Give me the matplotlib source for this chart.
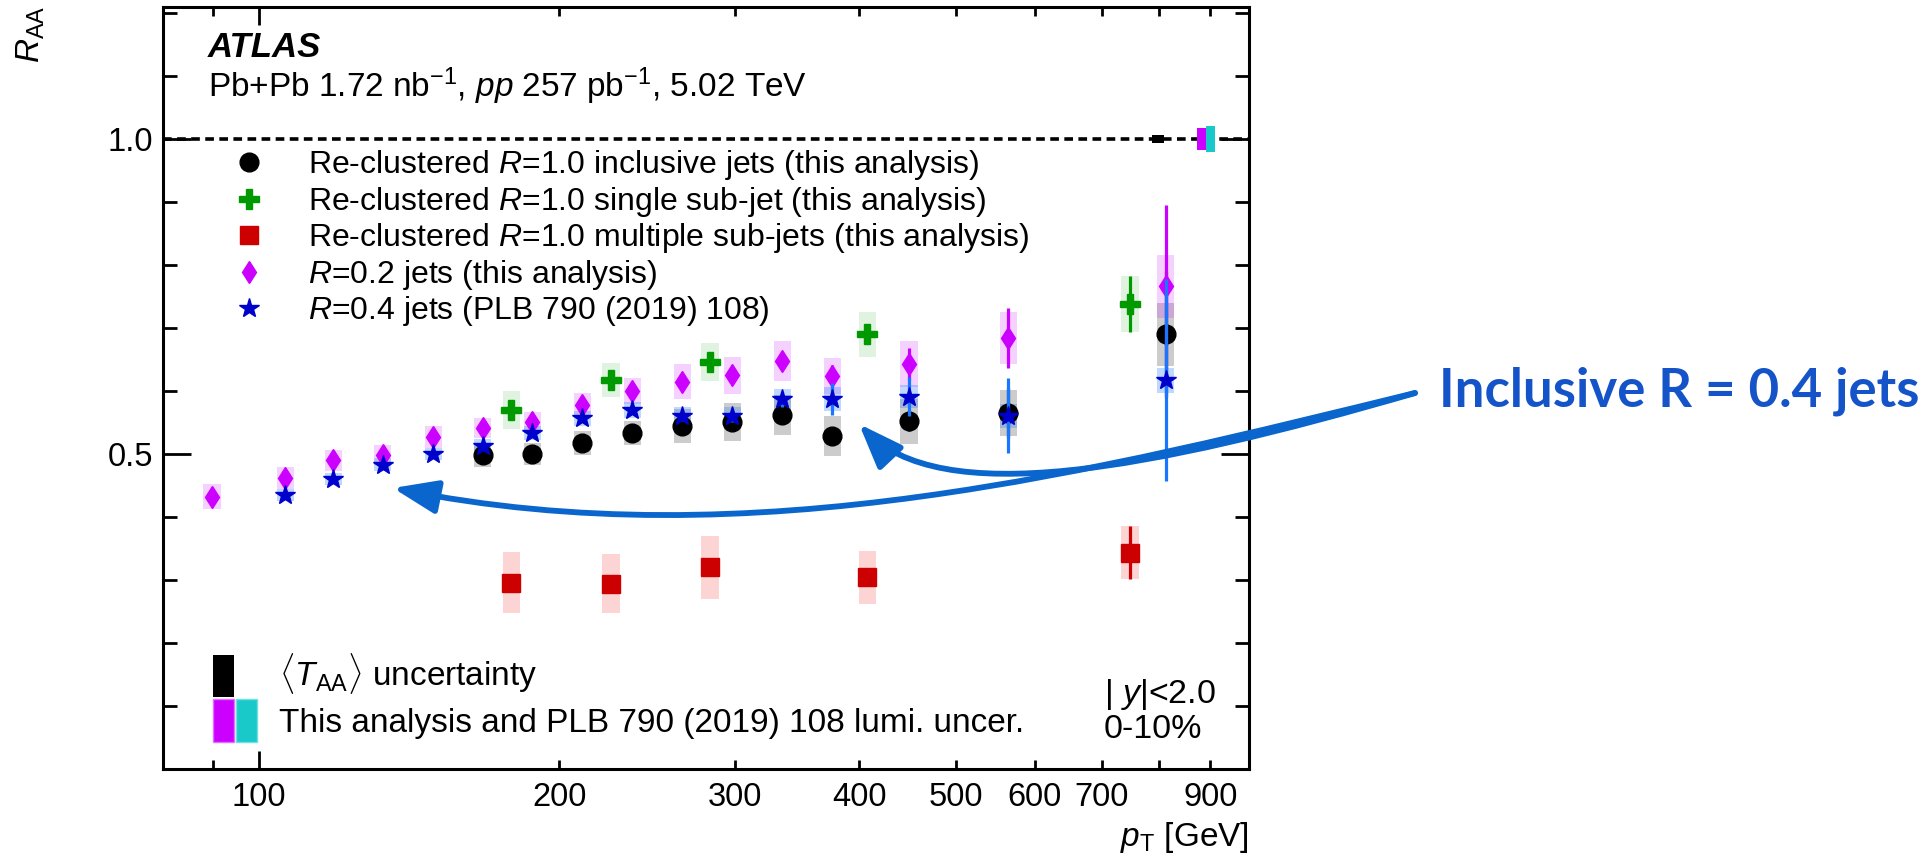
import numpy as np
import matplotlib
matplotlib.use('Agg')
import matplotlib.pyplot as plt
from matplotlib.patches import Rectangle, FancyArrowPatch
from matplotlib.path import Path
from matplotlib.ticker import FixedLocator, FixedFormatter, FormatStrFormatter

plt.rcParams['font.family'] = ['Liberation Sans', 'DejaVu Sans']
plt.rcParams['mathtext.fontset'] = 'custom'
plt.rcParams['mathtext.rm'] = 'Liberation Sans'
plt.rcParams['mathtext.it'] = 'Liberation Sans:italic'
plt.rcParams['mathtext.bf'] = 'Liberation Sans:bold'

# R=0.2 jets (this analysis)
pt_r02 = [89.7, 106.2, 118.7, 133.0, 149.6, 167.6, 188.0, 211.0, 236.8, 265.8, 298.4, 334.9, 375.8, 448.7, 564.4, 811.8]
raa_r02 = [0.432, 0.462, 0.490, 0.498, 0.527, 0.541, 0.550, 0.578, 0.600, 0.615, 0.625, 0.648, 0.624, 0.643, 0.684, 0.766]
stat_r02 = [0.003, 0.003, 0.003, 0.003, 0.003, 0.004, 0.004, 0.005, 0.006, 0.007, 0.008, 0.010, 0.018, 0.025, 0.048, 0.130]
sys_r02 = [0.020, 0.018, 0.017, 0.016, 0.017, 0.016, 0.017, 0.019, 0.021, 0.028, 0.029, 0.032, 0.029, 0.036, 0.041, 0.050]

# R=0.4 jets (PLB 790 (2019) 108)
pt_r04 = [106.2, 118.7, 133.0, 149.6, 167.6, 188.0, 211.0, 236.8, 265.8, 298.4, 334.9, 375.8, 448.7, 564.4, 811.8]
raa_r04 = [0.435, 0.460, 0.483, 0.500, 0.513, 0.533, 0.557, 0.570, 0.561, 0.561, 0.587, 0.587, 0.591, 0.561, 0.617]
stat_r04 = [0.003, 0.003, 0.003, 0.004, 0.004, 0.005, 0.006, 0.007, 0.008, 0.010, 0.012, 0.025, 0.031, 0.060, 0.160]
sys_r04 = [0.009, 0.010, 0.010, 0.010, 0.011, 0.011, 0.012, 0.013, 0.013, 0.014, 0.016, 0.019, 0.018, 0.019, 0.020]

# re-clustered R=1.0 inclusive
pt_incl = [167.6, 188.0, 211.0, 236.8, 265.8, 298.4, 334.9, 375.8, 448.7, 564.4, 811.8]
raa_incl = [0.498, 0.500, 0.518, 0.534, 0.544, 0.551, 0.562, 0.529, 0.552, 0.565, 0.690]
stat_incl = [0.004, 0.004, 0.005, 0.005, 0.006, 0.007, 0.008, 0.010, 0.015, 0.040, 0.100]
sys_incl = [0.018, 0.018, 0.019, 0.019, 0.027, 0.030, 0.032, 0.032, 0.036, 0.037, 0.050]

# single / multiple sub-jets
pt_sub = [179.0, 225.4, 283.4, 407.6, 747.4]
raa_single = [0.570, 0.617, 0.646, 0.690, 0.738]
stat_single = [0.005, 0.006, 0.008, 0.015, 0.044]
sys_single = [0.030, 0.027, 0.030, 0.036, 0.045]
raa_multi = [0.296, 0.294, 0.320, 0.304, 0.343]
stat_multi = [0.005, 0.006, 0.008, 0.012, 0.042]
sys_multi = [0.048, 0.047, 0.050, 0.042, 0.042]

# normalisation uncertainties drawn at R_AA = 1
taa_unc = 0.007
lumi_unc_r02 = 0.017
lumi_unc_r04 = 0.020

W, H = 1933, 857
fig = plt.figure(figsize=(W / 100, H / 100), dpi=100)
ax = fig.add_axes([163 / W, 1 - 769 / H, 1086 / W, 762 / H])
ax.set_xscale('log')
ax.set_xlim(80.1, 984)
ax.set_ylim(0, 1.2095)

bw = 1.02  # half width of the syst. boxes (log)


def boxes(pt, val, err, color, alpha):
    for p, v, e in zip(pt, val, err):
        ax.add_patch(Rectangle((p / bw, v - e), p * bw - p / bw, 2 * e,
                               facecolor=color, alpha=alpha, lw=0, zorder=1))


boxes(pt_incl, raa_incl, sys_incl, 'black', 0.2)
boxes(pt_sub, raa_single, sys_single, '#00a000', 0.12)
boxes(pt_sub, raa_multi, sys_multi, '#ee0000', 0.17)
boxes(pt_r02, raa_r02, sys_r02, '#cc00ff', 0.18)
boxes(pt_r04, raa_r04, sys_r04, '#2a7fff', 0.3)

ax.axhline(1.0, color='black', lw=2.6, ls=(0, (2.4, 1.5)), zorder=2)

# normalisation boxes at the right
ax.add_patch(Rectangle((797 / 1.014, 1 - taa_unc), 797 * 1.014 - 797 / 1.014, 2 * taa_unc,
                       facecolor='black', lw=0, zorder=3))
ax.add_patch(Rectangle((872, 1 - lumi_unc_r02), 890 - 872, 2 * lumi_unc_r02,
                       facecolor='#cc00ff', lw=0, zorder=3))
ax.add_patch(Rectangle((890, 1 - lumi_unc_r04), 909 - 890, 2 * lumi_unc_r04,
                       facecolor='#19c8c8', lw=0, zorder=3))


def series(pt, val, stat, ecolor, z, **kw):
    ax.errorbar(pt, val, yerr=stat, fmt='none', ecolor=ecolor, elinewidth=2.3,
                capsize=0, zorder=z)
    ax.plot(pt, val, ls='none', zorder=z + 0.5, **kw)


series(pt_incl, raa_incl, stat_incl, 'black', 4, marker='o', ms=13.5, color='black')
series(pt_sub, raa_single, stat_single, '#009900', 4, marker='P', ms=14.5, color='#009900')
series(pt_sub, raa_multi, stat_multi, '#cc0000', 4, marker='s', ms=12.5, color='#cc0000')
series(pt_r02, raa_r02, stat_r02, '#cc00ff', 5, marker='d', ms=11.7, color='#cc00ff')
series(pt_r04, raa_r04, stat_r04, '#1a75ff', 6, marker='*', ms=15, color='#0000cc')

# axes style
for s in ax.spines.values():
    s.set_linewidth(2.2)
ax.yaxis.set_major_locator(FixedLocator([0.5, 1.0]))
ax.yaxis.set_minor_locator(FixedLocator([0.1, 0.2, 0.3, 0.4, 0.6, 0.7, 0.8, 0.9, 1.1, 1.2]))
ax.yaxis.set_major_formatter(FormatStrFormatter('%.1f'))
ax.xaxis.set_major_locator(FixedLocator([100]))
ax.xaxis.set_major_formatter(FixedFormatter(['100']))
ax.xaxis.set_minor_locator(FixedLocator([90, 200, 300, 400, 500, 600, 700, 800, 900]))
ax.xaxis.set_minor_formatter(FixedFormatter(['', '200', '300', '400', '500', '600', '700', '', '900']))
ax.tick_params(axis='both', which='both', direction='in', top=True, right=True,
               width=2, labelsize=23.5)
ax.tick_params(axis='y', which='major', length=20, pad=7)
ax.tick_params(axis='y', which='minor', length=10)
ax.tick_params(axis='x', which='major', length=13, pad=9)
ax.tick_params(axis='x', which='minor', length=6.5, pad=9)

fig.text(31 / W, 1 - 6 / H, r'$R_{\mathrm{AA}}$', rotation=90, ha='center', va='top', fontsize=24)
fig.text(1249 / W, 1 - 846 / H, r'$p_{\mathrm{T}}$ [GeV]', ha='right', va='baseline', fontsize=24)

# labels inside the frame
ax.text(0.0414, 0.9344, 'ATLAS', transform=ax.transAxes, fontsize=25,
        fontweight='bold', fontstyle='italic', va='baseline')
ax.text(0.0414, 0.8819, r'Pb+Pb 1.72 nb$^{-1}$, $pp$ 257 pb$^{-1}$, 5.02 TeV',
        transform=ax.transAxes, fontsize=24, va='baseline')

legend_labels = [r'Re-clustered $R$=1.0 inclusive jets (this analysis)',
                 r'Re-clustered $R$=1.0 single sub-jet (this analysis)',
                 r'Re-clustered $R$=1.0 multiple sub-jets (this analysis)',
                 r'$R$=0.2 jets (this analysis)',
                 r'$R$=0.4 jets (PLB 790 (2019) 108)']
legend_styles = [dict(marker='o', ms=13.5, color='black'),
                 dict(marker='P', ms=14.5, color='#009900'),
                 dict(marker='s', ms=12.5, color='#cc0000'),
                 dict(marker='d', ms=11.7, color='#cc00ff'),
                 dict(marker='*', ms=15, color='#0000cc')]
for i, (lab, st) in enumerate(zip(legend_labels, legend_styles)):
    yc = 0.796 - i * 0.0479
    ax.plot([0.0792], [yc], transform=ax.transAxes, clip_on=False, ls='none', **st)
    ax.text(0.1335, yc - 11 / 762, lab, transform=ax.transAxes, fontsize=23, va='baseline')

ax.add_patch(Rectangle((0.046, 0.0945), 0.0194, 0.0551, transform=ax.transAxes,
                       facecolor='black', lw=0))
ax.add_patch(Rectangle((0.046, 0.0354), 0.0194, 0.0565, transform=ax.transAxes,
                       facecolor='#cc00ff', edgecolor='#e070ff', lw=1))
ax.add_patch(Rectangle((0.0672, 0.0354), 0.0194, 0.0565, transform=ax.transAxes,
                       facecolor='#19c8c8', edgecolor='#70e0e0', lw=1))
ax.text(0.1068, 0.109, r'$\langle T_{\mathrm{AA}}\rangle$ uncertainty', transform=ax.transAxes,
        fontsize=24, va='baseline')
ax.text(0.1068, 0.0486, 'This analysis and PLB 790 (2019) 108 lumi. uncer.',
        transform=ax.transAxes, fontsize=24, va='baseline')
ax.text(0.8665, 0.0866, r'| $y$|<2.0', transform=ax.transAxes, fontsize=24.5, va='baseline')
ax.text(0.8665, 0.0407, '0-10%', transform=ax.transAxes, fontsize=24.5, va='baseline')

# annotation
blue = '#0a66cc'


def fpt(x, y):
    return (x / W, 1 - y / H)


codes = [Path.MOVETO, Path.CURVE4, Path.CURVE4, Path.CURVE4]
arrow1 = Path([fpt(1415, 393), fpt(1100, 470), fpt(750, 560), fpt(393, 488)], codes)
arrow2 = Path([fpt(1415, 393), fpt(1150, 470), fpt(940, 510), fpt(859, 424)], codes)
for p in (arrow1, arrow2):
    fig.add_artist(FancyArrowPatch(path=p, transform=fig.transFigure,
                                   arrowstyle='-|>,head_length=0.45,head_width=0.17',
                                   mutation_scale=60, lw=4.2, color=blue, zorder=10))

fig.text(1439 / W, 1 - 406 / H, 'Inclusive R = 0.4 jets', fontsize=38, fontweight='bold',
         family=['Lato', 'DejaVu Sans'], color='#1554c8', va='baseline')

fig.savefig('out.png', dpi=100)
